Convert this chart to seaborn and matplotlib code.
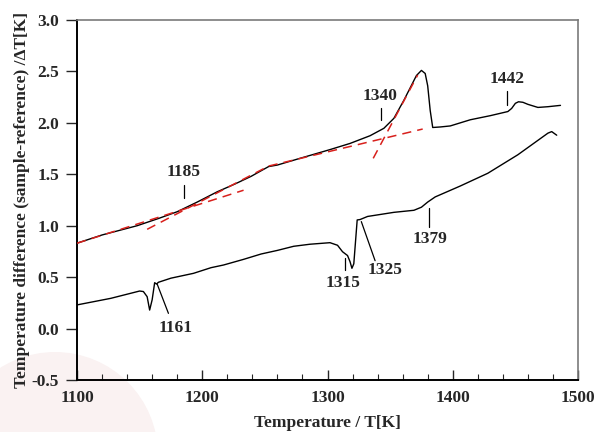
import matplotlib
matplotlib.use("Agg")
import matplotlib.pyplot as plt
import seaborn as sns
import pandas as pd
from matplotlib.patches import Circle
from matplotlib.ticker import MultipleLocator

# ---- data ----
upper_T = [1100, 1120, 1148, 1165, 1180, 1196, 1212, 1226, 1239, 1253, 1260, 1278,
           1302, 1318, 1334, 1345, 1353, 1361, 1366, 1371, 1375, 1378, 1380, 1382,
           1384, 1390, 1398, 1414, 1430, 1444, 1447, 1450, 1452.5, 1456, 1460, 1468,
           1476, 1486]
upper_dT = [0.83, 0.91, 1.0, 1.07, 1.136, 1.23, 1.33, 1.405, 1.48, 1.575, 1.59, 1.655,
            1.74, 1.80, 1.875, 1.947, 2.044, 2.22, 2.34, 2.46, 2.51, 2.48, 2.36, 2.12,
            1.955, 1.96, 1.97, 2.03, 2.07, 2.11, 2.14, 2.19, 2.205, 2.20, 2.18, 2.15,
            2.157, 2.17]

lower_T = [1100, 1127, 1150, 1153, 1156, 1158, 1160, 1162, 1163.5, 1165, 1175, 1193,
           1207, 1217, 1233, 1247, 1260, 1273, 1286, 1302, 1308, 1312, 1316, 1318,
           1319.5, 1321, 1323.7, 1326, 1332, 1353, 1369, 1375, 1380, 1386, 1406,
           1428, 1452, 1468, 1476, 1479, 1483]
lower_dT = [0.23, 0.294, 0.365, 0.36, 0.31, 0.18, 0.28, 0.446, 0.433, 0.45, 0.49, 0.537,
            0.592, 0.618, 0.673, 0.725, 0.76, 0.80, 0.82, 0.835, 0.81, 0.747, 0.71, 0.65,
            0.586, 0.63, 1.056, 1.06, 1.09, 1.13, 1.15, 1.18, 1.23, 1.28, 1.386,
            1.51, 1.69, 1.83, 1.90, 1.915, 1.88]

# tangent (onset construction) lines
tangent_T = [[1100, 1233], [1156, 1253], [1253, 1376], [1336.5, 1372]]
tangent_dT = [[0.83, 1.345], [0.965, 1.58], [1.58, 1.94], [1.655, 2.465]]

# annotations: label, text position, leader line start/end
ann_labels = ["1185", "1340", "1442", "1161", "1315", "1325", "1379"]
ann_text = [(1185, 1.52), (1342, 2.26), (1443, 2.43), (1179, 0.008),
            (1312, 0.446), (1346, 0.565), (1382, 0.87)]
ann_line_a = [(1185.3, 1.40), (1343, 2.14), (1443, 2.31), (1164, 0.433),
              (1313.6, 0.683), (1327, 1.04), (1381, 1.175)]
ann_line_b = [(1185.3, 1.27), (1343, 2.03), (1443, 2.17), (1173, 0.148),
              (1313.6, 0.57), (1338, 0.66), (1381, 0.99)]

x_ticks = [1100, 1200, 1300, 1400, 1500]
y_ticks = [-0.5, 0.0, 0.5, 1.0, 1.5, 2.0, 2.5, 3.0]

# ---- style ----
sns.set_style("white")
plt.rcParams['font.family'] = ['Liberation Serif', 'DejaVu Serif']
plt.rcParams['font.weight'] = 'bold'

fig = plt.figure(figsize=(5.95, 4.32), dpi=100)
ax = fig.add_axes([77/595, 52/432, 501/595, 360/432])
ax.set_facecolor("none")
# faint watermark circle behind everything
ax.add_patch(Circle((55, -23), 103, transform=None, facecolor="#faf2f2",
                    edgecolor="none", zorder=-5, clip_on=False))

df_up = pd.DataFrame({"T": upper_T, "dT": upper_dT})
df_lo = pd.DataFrame({"T": lower_T, "dT": lower_dT})
sns.lineplot(data=df_up, x="T", y="dT", ax=ax, color="black", lw=1.0, sort=False)
sns.lineplot(data=df_lo, x="T", y="dT", ax=ax, color="black", lw=1.0, sort=False)

for tx, ty in zip(tangent_T, tangent_dT):
    ax.plot(tx, ty, color="#d8201c", lw=1.1, ls=(0, (6, 4)), zorder=3)

for lab, tp, a, b in zip(ann_labels, ann_text, ann_line_a, ann_line_b):
    ax.plot([a[0], b[0]], [a[1], b[1]], color="black", lw=0.9)
    ax.text(tp[0], tp[1], lab, ha="center", va="center", fontsize=12.5,
            fontweight="bold")

ax.set_xlim(1100, 1500)
ax.set_ylim(-0.5, 3.0)
ax.set_xticks(x_ticks)
ax.set_yticks(y_ticks)
ax.set_yticklabels([f"{v:.1f}" for v in y_ticks])
ax.xaxis.set_minor_locator(MultipleLocator(20))
ax.tick_params(axis="x", which="major", direction="in", length=7, width=1,
               bottom=True, labelsize=12.5, pad=7)
ax.tick_params(axis="x", which="minor", direction="in", length=4, width=0.8,
               bottom=True)
ax.tick_params(axis="y", which="major", direction="out", length=8, width=1,
               left=True, labelsize=12.5, pad=5)
for lab in ax.get_xticklabels() + ax.get_yticklabels():
    lab.set_fontweight("bold")

for s in ["left", "bottom"]:
    ax.spines[s].set_color("black")
    ax.spines[s].set_linewidth(1.4)
for s in ["top", "right"]:
    ax.spines[s].set_color("#7a7a7a")
    ax.spines[s].set_linewidth(1.2)

ax.set_xlabel("Temperature / T[K]", fontsize=12.5, fontweight="bold")
ax.xaxis.set_label_coords(0.5, -43/360, transform=ax.transAxes)
ax.xaxis.label.set_va("center")
ax.set_ylabel("Temperature difference (sample-reference) /ΔT[K]", fontsize=12.5,
              fontweight="bold")
ax.yaxis.set_label_coords(-55/501, 0.5, transform=ax.transAxes)
ax.yaxis.label.set_va("center")

fig.savefig("out.png", dpi=100)
